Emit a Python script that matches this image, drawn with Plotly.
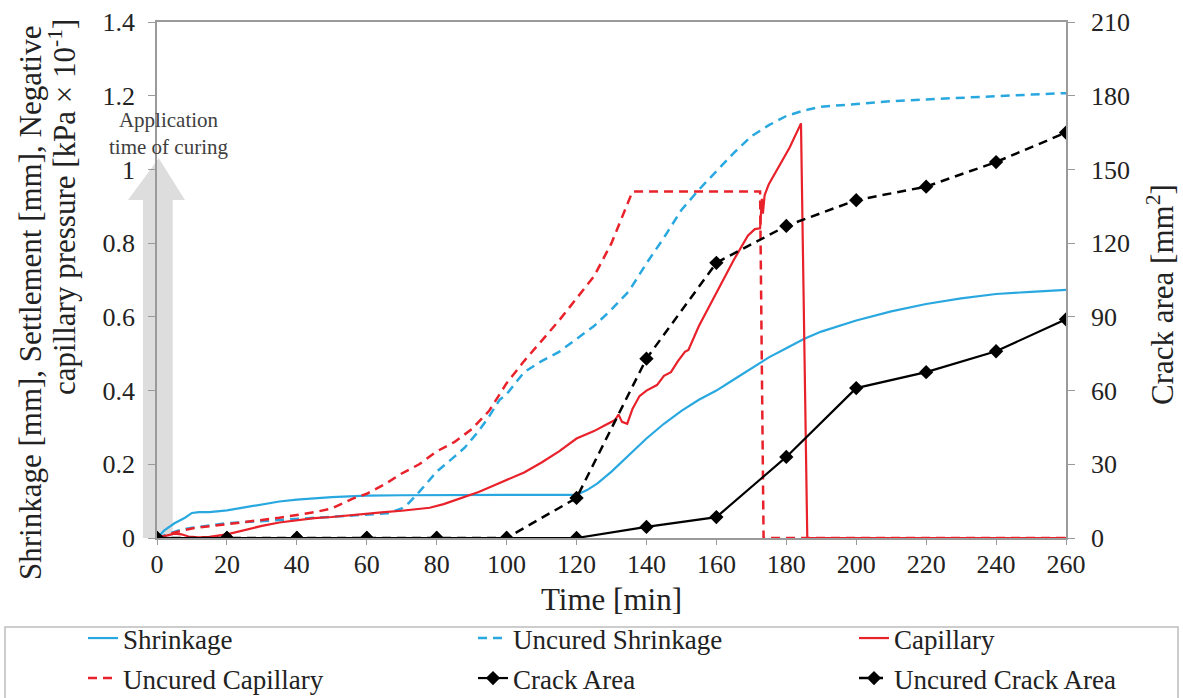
import plotly.graph_objects as go

# ---------------- data ----------------
shrink_t = [0, 2, 5, 8, 10, 12, 15, 20, 25, 30, 35, 40, 45, 50, 55, 60, 70, 80, 90, 100, 110, 115, 120,
            123, 126, 130, 135, 140, 145, 150, 155, 160, 165, 170, 175, 180, 185, 190, 195, 200, 210,
            220, 230, 240, 250, 260]
shrink_v = [0, 0.02, 0.04, 0.055, 0.068, 0.07, 0.07, 0.075, 0.083, 0.092, 0.099, 0.104, 0.108, 0.111,
            0.113, 0.115, 0.116, 0.117, 0.117, 0.117, 0.117, 0.116, 0.117, 0.13, 0.148, 0.18, 0.225,
            0.27, 0.31, 0.345, 0.375, 0.4, 0.43, 0.46, 0.49, 0.515, 0.54, 0.56, 0.575, 0.59, 0.615,
            0.635, 0.65, 0.662, 0.668, 0.673]

ushrink_t = [0, 3, 6, 10, 15, 20, 25, 30, 40, 50, 60, 66, 70, 72, 75, 80, 85, 88, 92, 95, 98, 100, 105,
             110, 115, 120, 125, 130, 135, 140, 145, 150, 155, 160, 165, 170, 175, 180, 185, 190, 200,
             210, 220, 230, 240, 250, 260]
ushrink_v = [0, 0.01, 0.02, 0.028, 0.035, 0.04, 0.043, 0.046, 0.05, 0.056, 0.062, 0.067, 0.08, 0.095,
             0.125, 0.18, 0.22, 0.245, 0.29, 0.33, 0.375, 0.39, 0.45, 0.48, 0.505, 0.54, 0.575, 0.62,
             0.67, 0.745, 0.815, 0.89, 0.945, 0.995, 1.045, 1.09, 1.12, 1.145, 1.16, 1.17, 1.178,
             1.185, 1.19, 1.195, 1.2, 1.203, 1.207]

cap_t = [0, 3, 5, 7, 9, 12, 15, 20, 25, 30, 35, 40, 45, 50, 55, 60, 65, 70, 75, 78, 82, 87, 92, 97, 100,
         105, 110, 115, 120, 125, 128, 131, 132, 133, 134.5, 136, 138, 140, 143, 145, 147, 149, 151, 152,
         155, 160, 165, 169, 171, 172.5, 173, 173.3, 173.8, 175, 178, 181, 184.2, 186, 260]
cap_v = [0, 0.008, 0.012, 0.01, 0.004, 0.002, 0.003, 0.01, 0.022, 0.033, 0.042, 0.049, 0.054, 0.057,
         0.062, 0.066, 0.07, 0.074, 0.08, 0.082, 0.092, 0.108, 0.125, 0.145, 0.158, 0.178, 0.205, 0.235,
         0.27, 0.29, 0.305, 0.32, 0.335, 0.315, 0.31, 0.35, 0.385, 0.4, 0.415, 0.44, 0.45, 0.48, 0.505,
         0.51, 0.575, 0.665, 0.755, 0.82, 0.838, 0.84, 0.92, 0.88, 0.93, 0.96, 1.01, 1.06, 1.125, 0, 0]

ucap_t = [0, 2, 5, 10, 15, 20, 25, 30, 35, 40, 45, 50, 53, 56, 60, 65, 70, 75, 80, 85, 90, 95, 100, 105,
          110, 115, 120, 125, 130, 133, 136, 172.5, 173.5, 260]
ucap_v = [0, 0.005, 0.015, 0.026, 0.032, 0.037, 0.043, 0.049, 0.055, 0.062, 0.07, 0.08, 0.093, 0.107,
          0.12, 0.145, 0.175, 0.2, 0.235, 0.26, 0.295, 0.345, 0.42, 0.48, 0.535, 0.59, 0.65, 0.71, 0.8,
          0.87, 0.94, 0.94, 0, 0]

crack_t = [0, 20, 40, 60, 80, 100, 120, 140, 160, 180, 200, 220, 240, 260]
crack_v = [0, 0, 0, 0, 0, 0, 0, 4.5, 8.5, 33, 61, 67.5, 76, 89]
ucrack_v = [0, 0, 0, 0, 0, 0, 16.3, 73, 112, 127, 137.5, 143, 153, 165]

x_ticks = list(range(0, 261, 20))
y_ticks = [0, 0.2, 0.4, 0.6, 0.8, 1.0, 1.2, 1.4]
y_labels = ["0", "0.2", "0.4", "0.6", "0.8", "1", "1.2", "1.4"]
y2_ticks = list(range(0, 211, 30))

# ---------------- style ----------------
FONT = "Liberation Serif, Times New Roman, serif"
BLUE = "#29A8E0"
RED = "#E8212A"
BLACK = "#000000"
AX = "#9a9a9a"
TXT = "#222222"

fig = go.Figure()
fig.add_trace(go.Scatter(x=shrink_t, y=shrink_v, name="Shrinkage", mode="lines",
                         line=dict(color=BLUE, width=2.2), legend="legend"))
fig.add_trace(go.Scatter(x=ushrink_t, y=ushrink_v, name="Uncured Shrinkage", mode="lines",
                         line=dict(color=BLUE, width=2.5, dash="9px,6px"), legend="legend2"))
fig.add_trace(go.Scatter(x=cap_t, y=cap_v, name="Capillary", mode="lines",
                         line=dict(color=RED, width=2.2), legend="legend3"))
fig.add_trace(go.Scatter(x=ucap_t, y=ucap_v, name="Uncured Capillary", mode="lines",
                         line=dict(color=RED, width=2.5, dash="9px,6px"), legend="legend4"))
fig.add_trace(go.Scatter(x=crack_t, y=crack_v, name="Crack Area", mode="lines+markers", yaxis="y2",
                         line=dict(color=BLACK, width=2.2),
                         marker=dict(symbol="diamond", size=11, color=BLACK), legend="legend5"))
fig.add_trace(go.Scatter(x=crack_t, y=ucrack_v, name="Uncured Crack Area", mode="lines+markers",
                         yaxis="y2", line=dict(color=BLACK, width=2.5, dash="9px,6px"),
                         marker=dict(symbol="diamond", size=11, color=BLACK), legend="legend6"))

L, R, T, B = 157, 117, 22, 160
W, H = 1183, 698
PW, PH = W - L - R, H - T - B


def px(xp):
    return (xp - L) / PW


def py(yp):
    return (H - B - yp) / PH


leg_font = dict(family=FONT, size=27, color=TXT)
col_x = [px(83), px(473), px(854)]
row_y = [py(614), py(654)]
legend_pos = {
    "legend": (col_x[0], row_y[0]),
    "legend2": (col_x[1], row_y[0]),
    "legend3": (col_x[2], row_y[0]),
    "legend4": (col_x[0], row_y[1]),
    "legend5": (col_x[1], row_y[1]),
    "legend6": (col_x[2], row_y[1]),
}
legends = {k: dict(x=v[0], y=v[1], xanchor="left", yanchor="top", bgcolor="rgba(0,0,0,0)",
                   borderwidth=0, font=leg_font, itemwidth=30)
           for k, v in legend_pos.items()}

tickfont = dict(family=FONT, size=26, color=TXT)

fig.update_layout(
    width=W, height=H,
    margin=dict(l=L, r=R, t=T, b=B, autoexpand=False),
    paper_bgcolor="white", plot_bgcolor="white",
    font=dict(family=FONT, color=TXT),
    showlegend=True,
    xaxis=dict(range=[0, 260], tickvals=x_ticks, ticktext=[str(v) for v in x_ticks],
               showgrid=False, zeroline=False, showline=True, linecolor=AX, linewidth=1.5,
               mirror=True, ticks="outside", ticklen=5, tickcolor=AX, tickfont=tickfont,
               ticklabelstandoff=-3, automargin=False),
    yaxis=dict(range=[0, 1.4], tickvals=y_ticks, ticktext=y_labels,
               showgrid=False, zeroline=False, showline=True, linecolor=AX, linewidth=1.5,
               mirror=True, ticks="outside", ticklen=7, tickcolor=AX, tickfont=tickfont,
               ticklabelstandoff=8, automargin=False),
    yaxis2=dict(range=[0, 210], tickvals=y2_ticks, ticktext=[str(v) for v in y2_ticks],
                overlaying="y", side="right", showgrid=False, zeroline=False, showline=True,
                linecolor=AX, linewidth=1.5, ticks="outside", ticklen=7, tickcolor=AX,
                tickfont=tickfont, ticklabelstandoff=11, automargin=False),
    **legends,
)

# grey arrow "application time of curing"
xs1, xs2 = -4.0 / 260, 4.5 / 260
xh1, xh2 = -8.3 / 260, 8.0 / 260
xa = 0.5 / 260
yb = 0.917 / 1.4
ya = 1.03 / 1.4
arrow_path = (f"M {xs1},0 L {xs1},{yb} L {xh1},{yb} L {xa},{ya} L {xh2},{yb} "
              f"L {xs2},{yb} L {xs2},0 Z")
fig.add_shape(type="path", path=arrow_path, xref="x domain", yref="y domain",
              fillcolor="#d9d9d9", line=dict(width=0), layer="below", opacity=0.9)

# legend border
fig.add_shape(type="rect", xref="paper", yref="paper", x0=px(5), x1=px(1178), y0=py(627), y1=py(702),
              line=dict(color="#bdbdbd", width=1.5), fillcolor="rgba(0,0,0,0)")

title_font = dict(family=FONT, size=31, color=TXT)
fig.add_annotation(x=0.5, y=py(599), xref="paper", yref="paper", text="Time [min]",
                   showarrow=False, font=title_font, xanchor="center", yanchor="middle")
fig.add_annotation(x=px(1160), y=py(295), xref="paper", yref="paper", text="Crack area [mm<sup>2</sup>]",
                   showarrow=False, font=title_font, textangle=-90, xanchor="center", yanchor="middle")
fig.add_annotation(x=px(30), y=py(303), xref="paper", yref="paper",
                   text="Shrinkage [mm], Settlement [mm], Negative",
                   showarrow=False, font=title_font, textangle=-90, xanchor="center", yanchor="middle")
fig.add_annotation(x=px(62), y=py(17), xref="paper", yref="paper",
                   text="capillary pressure [kPa × 10<sup>-1</sup>]",
                   showarrow=False, font=title_font, textangle=-90, xanchor="center", yanchor="top")
fig.add_annotation(x=px(168), y=py(133), xref="paper", yref="paper",
                   text="Application<br>time of curing",
                   showarrow=False, font=dict(family=FONT, size=21, color="#404040"),
                   xanchor="center", yanchor="middle")

fig.write_html("out.html")
